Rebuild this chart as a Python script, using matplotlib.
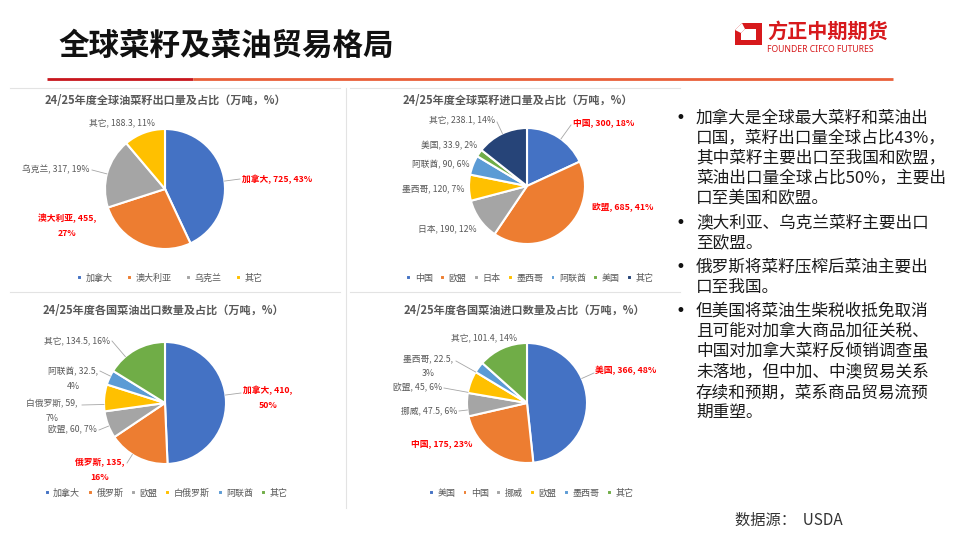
import math
import matplotlib
matplotlib.use("Agg")
import matplotlib.pyplot as plt
from matplotlib.patches import Polygon

plt.rcParams['font.family'] = ['Noto Sans CJK SC', 'DejaVu Sans']

W, H = 960, 540

# --- Data (万吨, %) ---
seed_exp_names = ['加拿大', '澳大利亚', '乌克兰', '其它']
seed_exp_values = [725, 455, 317, 188.3]
seed_exp_pcts = [43, 27, 19, 11]

seed_imp_names = ['中国', '欧盟', '日本', '墨西哥', '阿联酋', '美国', '其它']
seed_imp_values = [300, 685, 190, 120, 90, 33.9, 238.1]
seed_imp_pcts = [18, 41, 12, 7, 6, 2, 14]

oil_exp_names = ['加拿大', '俄罗斯', '欧盟', '白俄罗斯', '阿联酋', '其它']
oil_exp_values = [410, 135, 60, 59, 32.5, 134.5]
oil_exp_pcts = [50, 16, 7, 7, 4, 16]

oil_imp_names = ['美国', '中国', '挪威', '欧盟', '墨西哥', '其它']
oil_imp_values = [366, 175, 47.5, 45, 22.5, 101.4]
oil_imp_pcts = [48, 23, 6, 6, 3, 14]

titles = [
    '24/25年度全球油菜籽出口量及占比（万吨，%）',
    '24/25年度全球菜籽进口量及占比（万吨，%）',
    '24/25年度各国菜油出口数量及占比（万吨，%）',
    '24/25年度各国菜油进口数量及占比（万吨，%）',
]

# highlighted (red, bold) labels
highlight = [
    ['加拿大', '澳大利亚'],
    ['中国', '欧盟'],
    ['加拿大', '俄罗斯'],
    ['美国', '中国'],
]

bullets = [
    '加拿大是全球最大菜籽和菜油出\n口国，菜籽出口量全球占比43%，\n其中菜籽主要出口至我国和欧盟，\n菜油出口量全球占比50%，主要出\n口至美国和欧盟。',
    '澳大利亚、乌克兰菜籽主要出口\n至欧盟。',
    '俄罗斯将菜籽压榨后菜油主要出\n口至我国。',
    '但美国将菜油生柴税收抵免取消\n且可能对加拿大商品加征关税、\n中国对加拿大菜籽反倾销调查虽\n未落地，但中加、中澳贸易关系\n存续和预期，菜系商品贸易流预\n期重塑。',
]

# --- Excel-like palette ---
BLUE, ORANGE, GRAY, YELLOW = '#4472C4', '#ED7D31', '#A5A5A5', '#FFC000'
LBLUE, GREEN, NAVY = '#5B9BD5', '#70AD47', '#264478'

# --- Layout in pixels (origin top-left) ---
# each label: (x, y, ha, wrap, leader anchor or None)
panels = [
    dict(names=seed_exp_names, values=seed_exp_values, pcts=seed_exp_pcts,
         colors=[BLUE, ORANGE, GRAY, YELLOW],
         center=(165, 189), r=60, title_xy=(165, 100), legend_xy=(170, 278), colsp=1.6,
         labels=[(242, 179, 'left', False, (240, 179)),
                 (67, 226, 'center', True, None),
                 (90, 170, 'right', False, (92, 170)),
                 (155, 123, 'right', False, None)]),
    dict(names=seed_imp_names, values=seed_imp_values, pcts=seed_imp_pcts,
         colors=[BLUE, ORANGE, GRAY, YELLOW, LBLUE, GREEN, NAVY],
         center=(527, 186), r=58, title_xy=(518, 100), legend_xy=(530, 278), colsp=0.8,
         labels=[(573, 123, 'left', False, (571, 125)),
                 (592, 208, 'left', False, None),
                 (477, 229, 'right', False, None),
                 (465, 189, 'right', False, None),
                 (470, 165, 'right', False, None),
                 (477, 146, 'right', False, None),
                 (495, 120, 'right', False, (497, 122))]),
    dict(names=oil_exp_names, values=oil_exp_values, pcts=oil_exp_pcts,
         colors=[BLUE, ORANGE, GRAY, YELLOW, LBLUE, GREEN],
         center=(165, 403), r=61, title_xy=(163, 310), legend_xy=(166, 493), colsp=0.85,
         labels=[(268, 398, 'center', True, (241, 393)),
                 (100, 470, 'center', True, (127, 463)),
                 (97, 430, 'right', False, (99, 430)),
                 (52, 411, 'center', True, (82, 405)),
                 (73, 379, 'center', True, (100, 371)),
                 (110, 341, 'right', False, (112, 341))]),
    dict(names=oil_imp_names, values=oil_imp_values, pcts=oil_imp_pcts,
         colors=[BLUE, ORANGE, GRAY, YELLOW, LBLUE, GREEN],
         center=(527, 403), r=60, title_xy=(524, 310), legend_xy=(531, 493), colsp=0.8,
         labels=[(595, 370, 'left', False, (594, 373)),
                 (472, 444, 'right', False, None),
                 (457, 411, 'right', False, (459, 411)),
                 (442, 388, 'right', False, (444, 388)),
                 (428, 366, 'center', True, (456, 361)),
                 (517, 338, 'right', False, None)]),
]

fig = plt.figure(figsize=(W / 100, H / 100), dpi=100)
ax = fig.add_axes([0, 0, 1, 1])

for i, p in enumerate(panels):
    cx, cy = p['center']
    r = p['r']
    # y axis points down, so counterclock in data = clockwise on screen
    wedges, _ = ax.pie(p['values'], colors=p['colors'], center=(cx, cy), radius=r,
                       startangle=270, counterclock=True, frame=True,
                       wedgeprops=dict(edgecolor='white', linewidth=1.5))

    ax.text(p['title_xy'][0], p['title_xy'][1], titles[i], ha='center', va='center',
            fontsize=8, fontweight='bold', color='#595959')

    for w, name, val, pct, (lx, ly, ha, wrap, anchor) in zip(
            wedges, p['names'], p['values'], p['pcts'], p['labels']):
        sep = ',\n' if wrap else ', '
        txt = f'{name}, {val:g}{sep}{pct}%'
        hot = name in highlight[i]
        ax.text(lx, ly, txt, ha=ha, va='center', multialignment='center',
                fontsize=6.3, linespacing=1.9,
                color='#FF0000' if hot else '#595959',
                fontweight='bold' if hot else 'normal')
        if anchor is not None:
            ax_, ay_ = anchor
            ang = math.degrees(math.atan2(ay_ - cy, ax_ - cx))
            t1, t2 = w.theta1, w.theta2
            while ang < t1:
                ang += 360
            if ang > t2:
                d1 = min(abs(ang - 360 - t1), abs(ang - t1))
                d2 = abs(ang - t2)
                ang = t1 if d1 < d2 else t2
            ex = cx + r * math.cos(math.radians(ang))
            ey = cy + r * math.sin(math.radians(ang))
            ax.plot([ax_, ex], [ay_, ey], color='#A6A6A6', lw=0.6)

    fig.legend(wedges, p['names'], loc='center',
               bbox_to_anchor=(p['legend_xy'][0] / W, 1 - p['legend_xy'][1] / H),
               ncol=len(p['names']), frameon=False, fontsize=6.5,
               handlelength=0.55, handleheight=0.55, handletextpad=0.4,
               columnspacing=p['colsp'], labelcolor='#595959', borderpad=0)

# panel separators
for y0, x0, x1 in [(88, 10, 340), (88, 350, 680), (292, 10, 340), (292, 350, 680)]:
    ax.plot([x0, x1], [y0, y0], color='#E3E3E3', lw=0.8)
ax.plot([346, 346], [88, 508], color='#E3E3E3', lw=0.8)

# header
ax.text(58, 46, '全球菜籽及菜油贸易格局', ha='left', va='center', fontsize=22,
        fontweight='bold', color='#111111')
ax.plot([47, 193], [79, 79], color='#C8161D', lw=2, solid_capstyle='butt')
ax.plot([193, 893], [79, 79], color='#E9603A', lw=2, solid_capstyle='butt')

# logo
ax.add_patch(Polygon([(735, 30), (742, 23), (762, 23), (762, 45), (735, 45)],
                     closed=True, color='#D7191C', lw=0))
ax.add_patch(Polygon([(741, 33), (745, 29), (756, 29), (756, 40), (741, 40)],
                     closed=True, color='white', lw=0))
ax.add_patch(Polygon([(735, 30), (742, 23), (745, 29), (741, 33)],
                     closed=True, color='white', lw=0))
ax.text(767, 31, '方正中期期货', ha='left', va='center', fontsize=14.5,
        fontweight='bold', color='#D7191C')
ax.text(767, 49.5, 'FOUNDER CIFCO FUTURES', ha='left', va='center', fontsize=6.2,
        fontweight='bold', color='#D7191C', family=['Noto Sans', 'DejaVu Sans'])

# right-hand notes
line_h = 20.3
y = 118
for b in bullets:
    ax.text(680, y, '•', ha='center', va='center', fontsize=12, color='#111111',
            family=['DejaVu Sans'])
    for k, line in enumerate(b.split('\n')):
        ax.text(696, y + k * line_h, line, ha='left', va='center', fontsize=12,
                color='#1a1a1a')
    y += line_h * (b.count('\n') + 1) + 3.5

ax.text(735, 520, '数据源：  USDA', ha='left', va='center', fontsize=11,
        color='#333333')

ax.set_xlim(0, W)
ax.set_ylim(H, 0)
ax.set_aspect('auto')
ax.axis('off')

fig.savefig('out.png', dpi=100)
